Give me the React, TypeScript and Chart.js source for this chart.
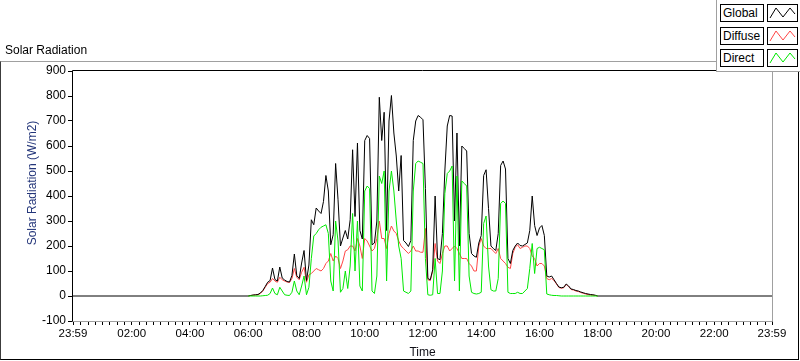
import React, { useEffect, useRef } from 'react';
import { Chart, registerables } from 'chart.js';

Chart.register(...registerables);

const CAPTION = 'Solar Radiation';
const Y_TITLE = 'Solar Radiation (W/m2)';
const X_TITLE = 'Time';
const FONT = '"Liberation Sans", Arial, sans-serif';

const seriesNames = ['Global', 'Diffuse', 'Direct'];
const seriesColors = ['#000000', '#ff4646', '#00e800'];

// samples: every 5 minutes from 06:00 to 18:00
const dayStartMinute = 360;
const sampleStepMinutes = 5;
const nightMinutes = [-1, 1439];
const nightValue = 0;

const xTickMinutes = [-1, 120, 240, 360, 480, 600, 720, 840, 960, 1080, 1200, 1320, 1439];
const xTickLabels = ['23:59', '02:00', '04:00', '06:00', '08:00', '10:00', '12:00', '14:00', '16:00', '18:00', '20:00', '22:00', '23:59'];
const xMinorStep = 15;
const yMin = -100;
const yMax = 900;
const yStep = 100;

const globalValues = [
  0, 2, 4, 5, 6, 12, 22, 38, 55, 62, 112, 66, 60, 116, 72, 64, 58, 56, 82, 168,
  82, 70, 132, 182, 62, 124, 305, 285, 352, 340, 330, 378, 482, 420, 205, 245, 530, 385, 200, 232,
  262, 228, 305, 585, 318, 612, 262, 228, 622, 642, 630, 205, 212, 300, 795, 622, 735, 262, 700, 802,
  652, 560, 420, 562, 222, 212, 198, 222, 622, 700, 722, 715, 705, 430, 70, 65, 105, 400, 150, 145,
  250, 500, 680, 722, 720, 300, 652, 200, 600, 590, 580, 250, 170, 160, 155, 212, 242, 482, 505, 350,
  200, 190, 182, 250, 522, 540, 508, 150, 130, 182, 200, 212, 202, 200, 206, 212, 262, 400, 282, 242,
  272, 282, 242, 80, 76, 80, 65, 50, 36, 33, 35, 48, 40, 28, 26, 22, 20, 16, 13, 10,
  8, 6, 5, 3, 0,
];

const diffuseValues = [
  0, 2, 3, 4, 5, 10, 20, 35, 50, 55, 70, 60, 55, 75, 65, 60, 56, 54, 70, 110,
  75, 65, 95, 115, 55, 85, 90, 100, 110, 105, 100, 110, 130, 140, 170, 140, 160, 150, 110, 140,
  180, 185, 200, 200, 180, 230, 200, 150, 230, 220, 200, 180, 190, 230, 300, 230, 230, 190, 250, 280,
  260, 250, 220, 200, 190, 180, 170, 180, 200, 180, 180, 175, 175, 270, 65, 62, 100, 210, 140, 130,
  170, 200, 200, 180, 190, 200, 190, 170, 150, 150, 150, 130, 120, 100, 100, 200, 230, 200, 190, 190,
  190, 180, 170, 190, 150, 140, 130, 115, 110, 170, 195, 205, 190, 195, 200, 200, 190, 160, 150, 120,
  130, 130, 120, 70, 65, 70, 62, 48, 34, 31, 33, 46, 38, 26, 24, 20, 18, 14, 11, 8,
  6, 4, 3, 2, 0,
];

const directValues = [
  0, 0, 0, 0, 0, 0, 1, 2, 3, 10, 32, 10, 5, 35, 20, 5, 3, 2, 15, 60,
  20, 5, 40, 80, 5, 35, 150, 240, 250, 265, 275, 280, 285, 250, 60, 20, 300, 220, 15, 30,
  100, 30, 120, 330, 100, 300, 40, 20, 420, 440, 430, 20, 10, 80, 480, 450, 500, 60, 420, 500,
  420, 300, 200, 150, 20, 15, 10, 20, 420, 530, 540, 535, 530, 150, 5, 3, 5, 150, 10, 10,
  100, 410, 490, 500, 520, 60, 480, 20, 460, 450, 440, 80, 15, 10, 8, 10, 15, 290, 320, 120,
  25, 20, 20, 70, 370, 380, 370, 15, 10, 10, 10, 15, 10, 10, 20, 30, 110, 210, 90, 190,
  195, 190, 185, 8, 5, 3, 2, 2, 1, 0, 0, 0, 0, 0, 0, 0, 0, 0, 0, 0,
  0, 0, 0, 0, 0,
];

function toPoints(values: number[]) {
  return values.map((v, i) => ({ x: dayStartMinute + i * sampleStepMinutes, y: v }));
}

const borderPlugin = {
  id: 'labviewBorder',
  afterDraw(chart: any) {
    const { ctx, chartArea } = chart;
    const { left, right, top, bottom } = chartArea;
    ctx.save();
    ctx.lineWidth = 1;
    ctx.strokeStyle = '#000000';
    ctx.beginPath();
    ctx.moveTo(left - 0.5, bottom);
    ctx.lineTo(left - 0.5, top - 0.5);
    ctx.lineTo(right + 0.5, top - 0.5);
    ctx.stroke();
    ctx.strokeStyle = '#a0a0a0';
    ctx.beginPath();
    ctx.moveTo(right + 0.5, top - 0.5);
    ctx.lineTo(right + 0.5, bottom + 0.5);
    ctx.lineTo(left - 0.5, bottom + 0.5);
    ctx.stroke();
    ctx.restore();
  },
};

function LegendIcon({ color }: { color: string }) {
  return (
    <svg width={28} height={15} style={{ display: 'block' }}>
      <polyline points="2,13 8,3 15,12 22,3 27,9" fill="none" stroke={color} strokeWidth={1} />
    </svg>
  );
}

export default function App() {
  const canvasRef = useRef<HTMLCanvasElement>(null);

  useEffect(() => {
    document.body.style.margin = '0';
    const canvas = canvasRef.current;
    if (!canvas) return;
    const labelMap = new Map<number, string>();
    xTickMinutes.forEach((m, i) => labelMap.set(m, xTickLabels[i]));
    const minorTicks: number[] = [xTickMinutes[0]];
    for (let m = xMinorStep; m < nightMinutes[1]; m += xMinorStep) minorTicks.push(m);
    minorTicks.push(nightMinutes[1]);

    const globalData = [
      { x: nightMinutes[0], y: nightValue },
      ...toPoints(globalValues),
      { x: nightMinutes[1], y: nightValue },
    ];

    const common = {
      borderWidth: 1,
      pointRadius: 0,
      pointHoverRadius: 0,
      tension: 0,
      fill: false,
      borderJoinStyle: 'bevel' as const,
    };

    const chart = new Chart(canvas, {
      type: 'line',
      data: {
        datasets: [
          { ...common, label: seriesNames[0], data: globalData, borderColor: seriesColors[0], order: 2 },
          { ...common, label: seriesNames[1], data: toPoints(diffuseValues), borderColor: seriesColors[1], order: 3 },
          { ...common, label: seriesNames[2], data: toPoints(directValues), borderColor: seriesColors[2], order: 1 },
        ],
      },
      options: {
        animation: false,
        responsive: false,
        maintainAspectRatio: false,
        events: [],
        layout: { padding: { left: 0, top: 71, right: 28, bottom: 0 } },
        plugins: {
          legend: { display: false },
          tooltip: { enabled: false },
          title: { display: false },
        },
        scales: {
          x: {
            type: 'linear',
            min: nightMinutes[0],
            max: nightMinutes[1],
            afterFit: (s: any) => { s.height = 40; },
            afterBuildTicks: (s: any) => { s.ticks = minorTicks.map((v) => ({ value: v })); },
            ticks: {
              autoSkip: false,
              maxRotation: 0,
              minRotation: 0,
              padding: 2,
              color: '#000000',
              font: { family: FONT, size: 11.5 },
              callback: (v: any) => labelMap.get(Number(v)) ?? '',
            },
            grid: { drawOnChartArea: false, drawTicks: true, tickLength: 4, color: '#000000' },
            border: { display: false },
            title: {
              display: true,
              text: X_TITLE,
              color: '#101018',
              font: { family: FONT, size: 12 },
              padding: { top: 0, bottom: 1 },
            },
          },
          y: {
            type: 'linear',
            min: yMin,
            max: yMax,
            afterFit: (s: any) => { s.width = 73; },
            ticks: {
              stepSize: yStep,
              padding: 2,
              color: '#000000',
              font: { family: FONT, size: 12 },
            },
            grid: { drawOnChartArea: false, drawTicks: true, tickLength: 5, color: '#000000' },
            border: { display: false },
          },
        },
      },
      plugins: [borderPlugin],
    } as any);
    return () => chart.destroy();
  }, []);

  const rowTops = [4, 27, 49];

  return (
    <div
      style={{
        position: 'relative',
        width: 800,
        height: 361,
        background: '#ffffff',
        overflow: 'hidden',
        fontFamily: FONT,
        fontSize: 12,
        color: '#000',
      }}
    >
      <canvas
        ref={canvasRef}
        width={800}
        height={361}
        style={{ position: 'absolute', left: 0, top: 0, width: 800, height: 361 }}
      />
      <div
        style={{
          position: 'absolute',
          left: 0,
          top: 61,
          width: 799,
          height: 299,
          boxSizing: 'border-box',
          borderTop: '1px solid #a0a0a0',
          borderLeft: '1px solid #3c3c3c',
          borderRight: '1px solid #000',
          borderBottom: '1px solid #000',
          pointerEvents: 'none',
        }}
      />
      <div style={{ position: 'absolute', left: 5, top: 43, lineHeight: '14px', whiteSpace: 'nowrap' }}>
        {CAPTION}
      </div>
      <div
        style={{
          position: 'absolute',
          left: 32,
          top: 183,
          transform: 'translate(-50%, -50%) rotate(-90deg)',
          whiteSpace: 'nowrap',
          lineHeight: '14px',
          color: '#24367a',
        }}
      >
        {Y_TITLE}
      </div>
      <div
        style={{
          position: 'absolute',
          left: 716,
          top: 0,
          width: 84,
          height: 72,
          boxSizing: 'border-box',
          borderLeft: '1px solid #a0a0a0',
          borderBottom: '1px solid #a0a0a0',
          background: '#ffffff',
        }}
      />
      {seriesNames.map((name, i) => (
        <React.Fragment key={name}>
          <div
            style={{
              position: 'absolute',
              left: 720,
              top: rowTops[i],
              width: 44,
              height: 18,
              boxSizing: 'border-box',
              border: '1px solid #000',
              paddingLeft: 2,
              lineHeight: '16px',
              whiteSpace: 'nowrap',
              background: '#fff',
            }}
          >
            {name}
          </div>
          <div
            style={{
              position: 'absolute',
              left: 767,
              top: rowTops[i],
              width: 31,
              height: 18,
              boxSizing: 'border-box',
              border: '1px solid #000',
              background: '#fff',
            }}
          >
            <LegendIcon color={seriesColors[i]} />
          </div>
        </React.Fragment>
      ))}
    </div>
  );
}
